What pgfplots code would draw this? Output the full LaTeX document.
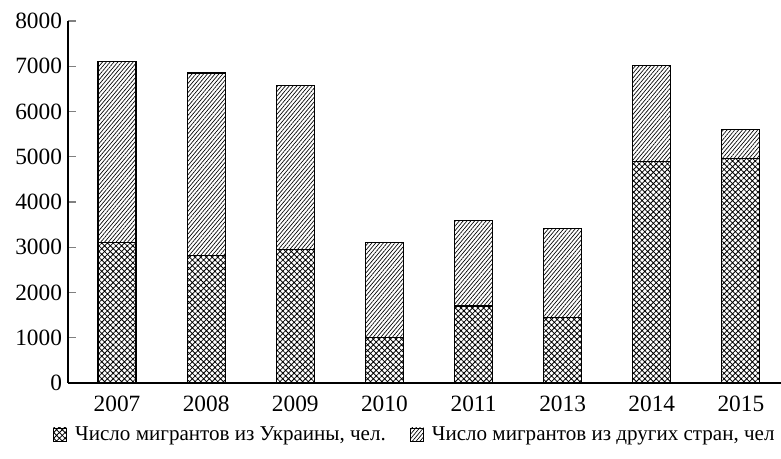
\documentclass[border=0pt]{standalone}
\usepackage{pgfplots}
\pgfplotsset{compat=1.18}
\usepackage{fontspec}
\setmainfont{Liberation Serif}
\usetikzlibrary{patterns.meta}
\begin{document}
\begin{tikzpicture}
\path[use as bounding box] (-51pt,-56.25pt) rectangle ++(585.75pt,343.5pt);
\pgfplotstableread{
x U O
0 3110 3990
1 2820 4030
2 2950 3630
3 1000 2100
4 1700 1900
5 1450 1960
6 4900 2110
7 4970 640
}\data
\begin{axis}[
  at={(0pt,0pt)}, anchor=south west,
  scale only axis, width=534.75pt, height=271.5pt,
  ybar stacked, bar width=28.5pt,
  xmin=-0.55, xmax=7.45, ymin=0, ymax=8000,
  axis lines*=left,
  axis line style={line width=0.9pt},
  xtick=data, xticklabels={2007,2008,2009,2010,2011,2013,2014,2015},
  x tick style={draw=none},
  ytick={0,1000,...,8000},
  y tick style={line width=0.9pt},
  tick align=inside, major tick length=6pt,
  /pgf/number format/assume math mode=true,
  /pgf/number format/1000 sep={},
  tick label style={font=\fontsize{17.5}{20}\selectfont},
  yticklabel style={xshift=-1pt},
  xticklabel style={yshift=-6pt},
  legend style={at={(0.487,-0.105)}, anchor=north, draw=none, legend columns=2,
    font=\fontsize{15.8}{19}\selectfont, /tikz/every even column/.append style={column sep=16pt},
    /tikz/every odd column/.append style={column sep=4pt}},
  legend image code/.code={\draw[#1, line width=0.5pt] (0pt,-5pt) rectangle (10pt,5pt);},
]
\addplot[draw=black, line width=0.9pt, pattern={Hatch[angle=45,distance=3pt,line width=0.6pt]}] table[x=x,y=U]{\data};
\addplot[draw=black, line width=0.9pt, pattern={Lines[angle=50,distance=2.2pt,line width=0.5pt]}] table[x=x,y=O]{\data};
\legend{{Число мигрантов из Украины, чел.},{Число мигрантов из других стран, чел}}
\end{axis}
\end{tikzpicture}
\end{document}
